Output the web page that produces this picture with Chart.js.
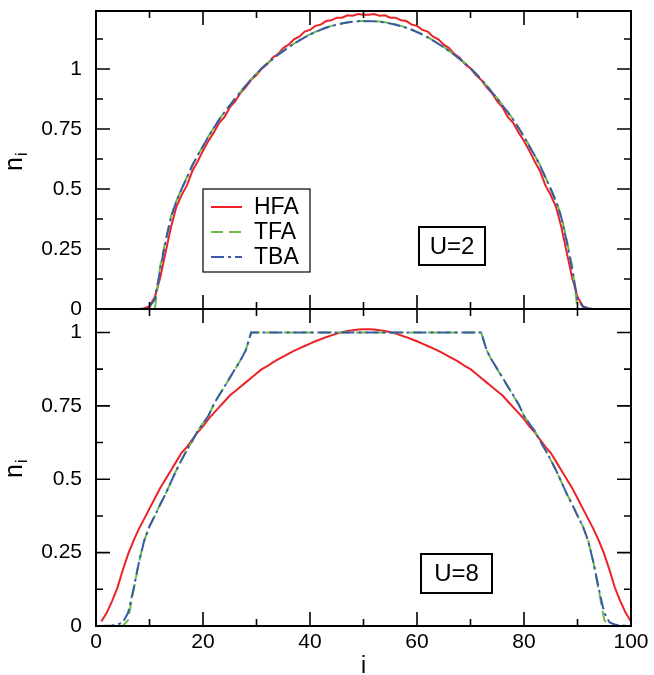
<!DOCTYPE html>
<html>
<head>
<meta charset="utf-8">
<script src="https://cdn.jsdelivr.net/npm/chart.js@4.4.1/dist/chart.umd.min.js"></script>
<style>
  html, body { margin: 0; padding: 0; background: #fff; }
  #wrap { position: relative; width: 654px; height: 675px; }
  #wrap canvas { position: absolute; left: 0; }
  #cTop { top: 0; }
  #cBot { top: 298px; }
</style>
</head>
<body>
<div id="wrap">
  <canvas id="cTop" width="654" height="322"></canvas>
  <canvas id="cBot" width="654" height="377"></canvas>
</div>
<script>
// lattice sites i = 1..100
const sites = Array.from({ length: 100 }, (_, k) => k + 1);

// U = 2 densities
const hfaU2 = [
  0, 0, 0, 0, 0, 0, 0, 0, 0.002, 0.012,
  0.05, 0.13, 0.235, 0.34, 0.425, 0.475, 0.515, 0.575, 0.615, 0.66,
  0.70, 0.735, 0.775, 0.80, 0.84, 0.865, 0.90, 0.925, 0.955, 0.975,
  1.003, 1.02, 1.047, 1.062, 1.088, 1.102, 1.124, 1.135, 1.156, 1.163,
  1.18, 1.185, 1.2, 1.203, 1.214, 1.214, 1.224, 1.222, 1.229, 1.226,
  1.226, 1.229, 1.222, 1.224, 1.214, 1.214, 1.203, 1.2, 1.185, 1.18,
  1.163, 1.156, 1.135, 1.124, 1.102, 1.088, 1.062, 1.047, 1.02, 1.003,
  0.975, 0.955, 0.925, 0.90, 0.865, 0.84, 0.80, 0.775, 0.735, 0.70,
  0.66, 0.615, 0.575, 0.515, 0.475, 0.425, 0.34, 0.235, 0.13, 0.05,
  0.012, 0.002, 0, 0, 0, 0, 0, 0, 0, 0
];
const tfaU2 = [
  0, 0, 0, 0, 0, 0, 0, 0, 0, 0,
  0, 0.18, 0.285, 0.385, 0.45, 0.5, 0.55, 0.6, 0.64, 0.68,
  0.72, 0.755, 0.79, 0.82, 0.85, 0.878, 0.905, 0.932, 0.958, 0.982,
  1.004, 1.024, 1.042, 1.06, 1.076, 1.092, 1.106, 1.12, 1.133, 1.145,
  1.155, 1.165, 1.173, 1.18, 1.186, 1.191, 1.195, 1.198, 1.2, 1.2,
  1.2, 1.2, 1.198, 1.195, 1.191, 1.186, 1.18, 1.173, 1.165, 1.155,
  1.145, 1.133, 1.12, 1.106, 1.092, 1.076, 1.06, 1.042, 1.024, 1.004,
  0.982, 0.958, 0.932, 0.905, 0.878, 0.85, 0.82, 0.79, 0.755, 0.72,
  0.68, 0.64, 0.6, 0.55, 0.5, 0.45, 0.385, 0.285, 0.18, 0,
  0, 0, 0, 0, 0, 0, 0, 0, 0, 0
];
const tbaU2 = [
  0, 0, 0, 0, 0, 0, 0, 0, 0.002, 0.01,
  0.04, 0.165, 0.28, 0.38, 0.448, 0.5, 0.548, 0.598, 0.64, 0.678,
  0.718, 0.754, 0.788, 0.82, 0.848, 0.877, 0.904, 0.931, 0.957, 0.981,
  1.003, 1.023, 1.041, 1.059, 1.075, 1.091, 1.105, 1.119, 1.132, 1.144,
  1.154, 1.164, 1.172, 1.179, 1.185, 1.19, 1.194, 1.197, 1.199, 1.199,
  1.199, 1.199, 1.197, 1.194, 1.19, 1.185, 1.179, 1.172, 1.164, 1.154,
  1.144, 1.132, 1.119, 1.105, 1.091, 1.075, 1.059, 1.041, 1.023, 1.003,
  0.981, 0.957, 0.931, 0.904, 0.877, 0.848, 0.82, 0.788, 0.754, 0.718,
  0.678, 0.64, 0.598, 0.548, 0.5, 0.448, 0.38, 0.28, 0.165, 0.04,
  0.01, 0.002, 0, 0, 0, 0, 0, 0, 0, 0
];

// U = 8 densities
const hfaU8 = [
  0.015, 0.045, 0.085, 0.13, 0.19, 0.245, 0.29, 0.33, 0.365, 0.40,
  0.435, 0.47, 0.50, 0.53, 0.56, 0.59, 0.61, 0.635, 0.66, 0.68,
  0.705, 0.725, 0.745, 0.765, 0.785, 0.80, 0.815, 0.83, 0.845, 0.86,
  0.875, 0.885, 0.897, 0.908, 0.918, 0.928, 0.937, 0.946, 0.954, 0.962,
  0.970, 0.977, 0.984, 0.99, 0.996, 1.001, 1.005, 1.008, 1.01, 1.011,
  1.011, 1.01, 1.008, 1.005, 1.001, 0.996, 0.99, 0.984, 0.977, 0.970,
  0.962, 0.954, 0.946, 0.937, 0.928, 0.918, 0.908, 0.897, 0.885, 0.875,
  0.86, 0.845, 0.83, 0.815, 0.80, 0.785, 0.765, 0.745, 0.725, 0.705,
  0.68, 0.66, 0.635, 0.61, 0.59, 0.56, 0.53, 0.50, 0.47, 0.435,
  0.40, 0.365, 0.33, 0.29, 0.245, 0.19, 0.13, 0.085, 0.045, 0.015
];
const tfaU8 = [
  0, 0, 0, 0, 0, 0.02, 0.12, 0.215, 0.29, 0.34,
  0.375, 0.415, 0.45, 0.49, 0.53, 0.565, 0.6, 0.63, 0.665, 0.69,
  0.715, 0.755, 0.785, 0.815, 0.845, 0.875, 0.905, 0.94, 1, 1,
  1, 1, 1, 1, 1, 1, 1, 1, 1, 1,
  1, 1, 1, 1, 1, 1, 1, 1, 1, 1,
  1, 1, 1, 1, 1, 1, 1, 1, 1, 1,
  1, 1, 1, 1, 1, 1, 1, 1, 1, 1,
  1, 1, 0.94, 0.905, 0.875, 0.845, 0.815, 0.785, 0.755, 0.715,
  0.69, 0.665, 0.63, 0.6, 0.565, 0.53, 0.49, 0.45, 0.415, 0.375,
  0.34, 0.29, 0.215, 0.12, 0.02, 0, 0, 0, 0, 0
];
const tbaU8 = [
  0, 0.001, 0.002, 0.005, 0.012, 0.045, 0.125, 0.215, 0.29, 0.34,
  0.376, 0.414, 0.45, 0.49, 0.53, 0.566, 0.6, 0.631, 0.664, 0.69,
  0.716, 0.755, 0.786, 0.815, 0.846, 0.876, 0.905, 0.94, 1, 1,
  1, 1, 1, 1, 1, 1, 1, 1, 1, 1,
  1, 1, 1, 1, 1, 1, 1, 1, 1, 1,
  1, 1, 1, 1, 1, 1, 1, 1, 1, 1,
  1, 1, 1, 1, 1, 1, 1, 1, 1, 1,
  1, 1, 0.94, 0.905, 0.876, 0.846, 0.815, 0.786, 0.755, 0.716,
  0.69, 0.664, 0.631, 0.6, 0.566, 0.53, 0.49, 0.45, 0.414, 0.376,
  0.34, 0.29, 0.215, 0.125, 0.045, 0.012, 0.005, 0.002, 0.001, 0
];

// ticks
const xTickValues = [0, 20, 40, 60, 80, 100];
const xTickLabels = ['0', '20', '40', '60', '80', '100'];
const xMinorValues = [10, 30, 50, 70, 90];
const yTickValues = [0, 0.25, 0.5, 0.75, 1];
const yTickLabels = ['0', '0.25', '0.5', '0.75', '1'];
const yMinorValues = [0.125, 0.375, 0.625, 0.875, 1.125];

const seriesNames = ['HFA', 'TFA', 'TBA'];

const FONT = "'Liberation Sans', Arial, Helvetica, sans-serif";
const RED = '#ec2227', GREEN = '#6bbd45', BLUE = '#3a5aa8';
const styles = [
  { color: RED, dash: [] },
  { color: GREEN, dash: [12, 6] },
  { color: BLUE, dash: [13, 4, 3, 4] }
];

// box frame + inward ticks on all four sides
const frameTicks = {
  id: 'frameTicks',
  afterDatasetsDraw(chart) {
    const { ctx, chartArea: a, scales: { x, y } } = chart;
    ctx.save();
    ctx.strokeStyle = '#000';
    ctx.lineWidth = 1.6;
    ctx.beginPath();
    const xt = (v, len) => {
      const px = x.getPixelForValue(v);
      ctx.moveTo(px, a.top); ctx.lineTo(px, a.top + len);
      ctx.moveTo(px, a.bottom); ctx.lineTo(px, a.bottom - len);
    };
    const yt = (v, len) => {
      if (v > y.max) return;
      const py = y.getPixelForValue(v);
      ctx.moveTo(a.left, py); ctx.lineTo(a.left + len, py);
      ctx.moveTo(a.right, py); ctx.lineTo(a.right - len, py);
    };
    xTickValues.forEach(v => xt(v, 14));
    xMinorValues.forEach(v => xt(v, 7));
    yTickValues.forEach(v => yt(v, 14));
    yMinorValues.forEach(v => yt(v, 7));
    ctx.stroke();
    ctx.lineWidth = 2;
    ctx.strokeRect(a.left, a.top, a.right - a.left, a.bottom - a.top);
    ctx.restore();
  }
};

// axis titles, U label box, legend
const panelNotes = {
  id: 'panelNotes',
  afterDraw(chart, args, o) {
    const ctx = chart.ctx;
    ctx.save();
    ctx.fillStyle = '#000';
    ctx.strokeStyle = '#000';

    // n_i, rotated
    ctx.save();
    ctx.translate(o.nx, o.ny);
    ctx.rotate(-Math.PI / 2);
    ctx.font = '25px ' + FONT;
    ctx.textBaseline = 'alphabetic';
    ctx.textAlign = 'left';
    const nw = ctx.measureText('n').width;
    ctx.fillText('n', -nw / 2 - 3, 0);
    ctx.font = '16px ' + FONT;
    ctx.fillText('i', nw / 2 - 2, 5);
    ctx.restore();

    // U box
    ctx.lineWidth = 2;
    ctx.strokeRect(o.box[0], o.box[1], o.box[2], o.box[3]);
    ctx.font = '24px ' + FONT;
    ctx.textAlign = 'center';
    ctx.textBaseline = 'middle';
    ctx.fillText(o.label, o.box[0] + o.box[2] / 2, o.box[1] + o.box[3] / 2 + 1);

    if (o.xTitle) {
      ctx.font = '23px ' + FONT;
      ctx.fillText(o.xTitle, chart.scales.x.getPixelForValue(50), o.xTitleY);
    }

    if (o.legend) {
      const [lx, ly, lw, lh] = o.legend;
      ctx.lineWidth = 1.2;
      ctx.strokeRect(lx, ly, lw, lh);
      ctx.font = '23px ' + FONT;
      ctx.textAlign = 'left';
      seriesNames.forEach((name, k) => {
        const yy = ly + 18 + k * 25;
        ctx.save();
        ctx.strokeStyle = styles[k].color;
        ctx.lineWidth = 2;
        ctx.setLineDash(styles[k].dash);
        ctx.beginPath();
        ctx.moveTo(lx + 8, yy);
        ctx.lineTo(lx + 39, yy);
        ctx.stroke();
        ctx.restore();
        ctx.fillText(name, lx + 51, yy + 1);
      });
    }
    ctx.restore();
  }
};

function makeDatasets(series) {
  return series.map((vals, k) => ({
    label: seriesNames[k],
    data: sites.map((s, j) => ({ x: s, y: vals[j] })),
    borderColor: styles[k].color,
    borderDash: styles[k].dash,
    borderWidth: 2,
    pointRadius: 0,
    tension: 0,
    fill: false,
    order: 2 - k
  }));
}

// the plot box is placed by the layout padding alone
const noOverflow = s => {
  s.paddingTop = 0; s.paddingBottom = 0;
  s.paddingLeft = 0; s.paddingRight = 0;
};

function makeOptions(yMax, showX, padding, notes) {
  return {
    responsive: false,
    animation: false,
    events: [],
    layout: { padding },
    plugins: { legend: { display: false }, tooltip: { enabled: false }, panelNotes: notes },
    scales: {
      x: {
        type: 'linear', min: 0, max: 100,
        display: showX,
        grid: { display: false, drawTicks: false },
        border: { display: false },
        afterBuildTicks: s => { s.ticks = xTickValues.map(v => ({ value: v })); },
        afterFit: s => { s.height = showX ? 49 : 0; noOverflow(s); },
        ticks: {
          padding: 4,
          color: '#000',
          font: { family: FONT, size: 21 },
          maxRotation: 0,
          callback: (v, i) => xTickLabels[i]
        }
      },
      y: {
        type: 'linear', min: 0, max: yMax,
        grid: { display: false, drawTicks: false },
        border: { display: false },
        afterBuildTicks: s => { s.ticks = yTickValues.map(v => ({ value: v })); },
        afterFit: s => { s.width = 96; noOverflow(s); },
        ticks: {
          padding: 14,
          color: '#000',
          font: { family: FONT, size: 21 },
          callback: (v, i) => yTickLabels[i]
        }
      }
    }
  };
}

new Chart(document.getElementById('cTop'), {
  type: 'line',
  data: { datasets: makeDatasets([hfaU2, tfaU2, tbaU2]) },
  options: makeOptions(1.242, false, { top: 11, right: 23, bottom: 13, left: 0 }, {
    nx: 22, ny: 161, box: [419, 227, 66, 38], label: 'U=2',
    legend: [203, 189, 107, 83]
  }),
  plugins: [frameTicks, panelNotes]
});

new Chart(document.getElementById('cBot'), {
  type: 'line',
  data: { datasets: makeDatasets([hfaU8, tfaU8, tbaU8]) },
  options: makeOptions(1.08, true, { top: 11, right: 23, bottom: 0, left: 0 }, {
    nx: 22, ny: 170, box: [421, 256, 71, 39], label: 'U=8',
    xTitle: 'i', xTitleY: 369
  }),
  plugins: [frameTicks, panelNotes]
});
</script>
</body>
</html>
